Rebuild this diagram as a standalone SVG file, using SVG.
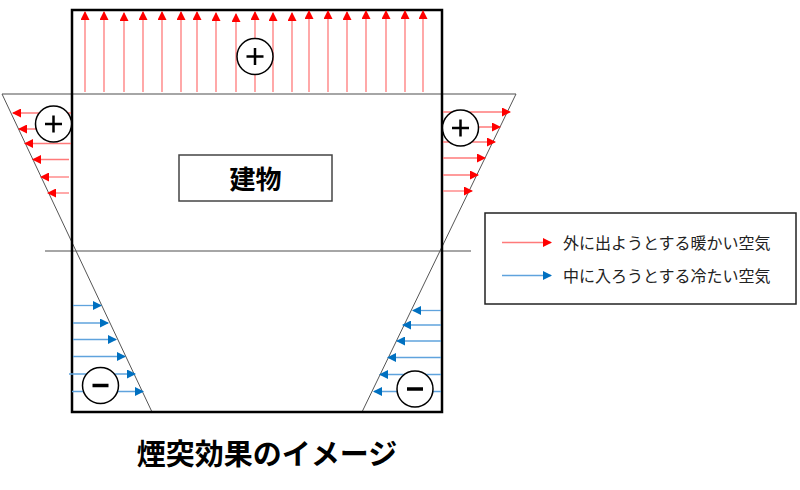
<svg xmlns="http://www.w3.org/2000/svg" width="800" height="490" viewBox="0 0 800 490">
<style>
.wall{fill:none;stroke:#000;stroke-width:2.5}
.gl{stroke:#888;stroke-width:1.5}
.diag{stroke:#555;stroke-width:1}
.ra{stroke:#ff7a7a;stroke-width:1.3;marker-end:url(#rh)}
.ba{stroke:#5fa3dd;stroke-width:1.3;marker-end:url(#bh)}
.sign{fill:#fff;stroke:#000;stroke-width:1.5}
.pm{stroke:#000;stroke-width:2.5;stroke-linecap:butt}
.mn{stroke:#000;stroke-width:3.5}
.t{font-family:"Noto Sans CJK JP","Noto Sans CJK SC",sans-serif}
</style>
<defs>
<marker id="rh" markerUnits="userSpaceOnUse" markerWidth="9" markerHeight="9" refX="8" refY="4.5" orient="auto"><path d="M0,0 L9,4.5 L0,9 Z" fill="#ff0000"/></marker>
<marker id="bh" markerUnits="userSpaceOnUse" markerWidth="9" markerHeight="9" refX="8" refY="4.5" orient="auto"><path d="M0,0 L9,4.5 L0,9 Z" fill="#0070c0"/></marker>
</defs>
<rect width="800" height="490" fill="#fff"/>
<g id="building">
<line class="gl" x1="2" y1="94" x2="516" y2="94"/>
<line class="gl" x1="45" y1="251" x2="471" y2="251"/>
<line class="diag" x1="2" y1="94" x2="152" y2="412"/>
<line class="diag" x1="516" y1="94" x2="362" y2="412"/>
<rect class="wall" x="72" y="10" width="370" height="402"/>
</g>
<g id="connectors">
<line class="ra" x1="85" y1="92" x2="85" y2="12"/>
<line class="ra" x1="104" y1="92" x2="104" y2="12"/>
<line class="ra" x1="124" y1="92" x2="124" y2="13"/>
<line class="ra" x1="143" y1="92" x2="143" y2="12"/>
<line class="ra" x1="162" y1="92" x2="162" y2="12"/>
<line class="ra" x1="181" y1="92" x2="181" y2="12"/>
<line class="ra" x1="197" y1="92" x2="197" y2="12"/>
<line class="ra" x1="216" y1="92" x2="216" y2="13"/>
<line class="ra" x1="236" y1="92" x2="236" y2="14"/>
<line class="ra" x1="255" y1="92" x2="255" y2="12"/>
<line class="ra" x1="273" y1="92" x2="273" y2="13"/>
<line class="ra" x1="292" y1="92" x2="292" y2="13"/>
<line class="ra" x1="309" y1="92" x2="309" y2="11"/>
<line class="ra" x1="328" y1="92" x2="328" y2="11"/>
<line class="ra" x1="347" y1="92" x2="347" y2="12"/>
<line class="ra" x1="366" y1="92" x2="366" y2="11"/>
<line class="ra" x1="386" y1="92" x2="386" y2="11"/>
<line class="ra" x1="405" y1="92" x2="405" y2="11"/>
<line class="ra" x1="423" y1="92" x2="423" y2="11"/>
<line class="ra" x1="71" y1="113" x2="13" y2="113"/>
<line class="ra" x1="71" y1="129" x2="19" y2="129"/>
<line class="ra" x1="71" y1="143.5" x2="25" y2="143.5"/>
<line class="ra" x1="69" y1="159.5" x2="33" y2="159.5"/>
<line class="ra" x1="69" y1="177" x2="41" y2="177"/>
<line class="ra" x1="69" y1="193" x2="48" y2="193"/>
<line class="ra" x1="443" y1="112" x2="510" y2="112"/>
<line class="ra" x1="443" y1="127" x2="500" y2="127"/>
<line class="ra" x1="443" y1="142" x2="495" y2="142"/>
<line class="ra" x1="443" y1="158" x2="485" y2="158"/>
<line class="ra" x1="443" y1="175" x2="478" y2="175"/>
<line class="ra" x1="443" y1="191" x2="472" y2="191"/>
<line class="ba" x1="73" y1="305.5" x2="101" y2="305.5"/>
<line class="ba" x1="73" y1="323" x2="108" y2="323"/>
<line class="ba" x1="73" y1="339.5" x2="116" y2="339.5"/>
<line class="ba" x1="73" y1="356.5" x2="125" y2="356.5"/>
<line class="ba" x1="69" y1="374" x2="135" y2="374"/>
<line class="ba" x1="72" y1="391.5" x2="143" y2="391.5"/>
<line class="ba" x1="441" y1="310.5" x2="413" y2="310.5"/>
<line class="ba" x1="441" y1="325" x2="403" y2="325"/>
<line class="ba" x1="441" y1="341" x2="397" y2="341"/>
<line class="ba" x1="441" y1="357.5" x2="388" y2="357.5"/>
<line class="ba" x1="441" y1="374.5" x2="380" y2="374.5"/>
<line class="ba" x1="441" y1="391.5" x2="374" y2="391.5"/>
</g>
<g id="plus-top">
<circle class="sign" cx="255" cy="56.5" r="18"/>
<path class="pm" d="M246.5,56.5 H263.5 M255,48 V65"/>
</g>
<g id="plus-left">
<circle class="sign" cx="53.5" cy="124" r="18"/>
<path class="pm" d="M45,124 H62 M53.5,115.5 V132.5"/>
</g>
<g id="plus-right">
<circle class="sign" cx="460.5" cy="128" r="18"/>
<path class="pm" d="M452,128 H469 M460.5,119.5 V136.5"/>
</g>
<g id="minus-left">
<circle class="sign" cx="100.5" cy="385.5" r="18"/>
<path class="mn" d="M92.5,385.5 H108.5"/>
</g>
<g id="minus-right">
<circle class="sign" cx="415" cy="389" r="18"/>
<path class="mn" d="M407,389 H423"/>
</g>
<g id="label-building">
<rect x="179" y="155" width="153" height="46" fill="#fff" stroke="#444" stroke-width="1.5"/>
<text class="t" x="255.5" y="189" font-size="26" font-weight="bold" text-anchor="middle" fill="#000">建物</text>
</g>
<g id="legend">
<rect x="485" y="213" width="311" height="91" fill="#fff" stroke="#222" stroke-width="1.5"/>
<line class="ra" x1="502" y1="242.5" x2="551" y2="242.5"/>
<line class="ba" x1="502" y1="275.5" x2="551" y2="275.5"/>
<text class="t" x="563" y="249" font-size="16" fill="#222">外に出ようとする暖かい空気</text>
<text class="t" x="563" y="282" font-size="16" fill="#222">中に入ろうとする冷たい空気</text>
</g>
<g id="title">
<text class="t" x="267" y="465" font-size="29" font-weight="bold" text-anchor="middle" fill="#000">煙突効果のイメージ</text>
</g>
</svg>
